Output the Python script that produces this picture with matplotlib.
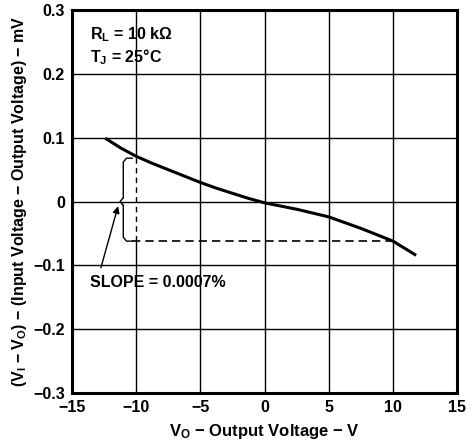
import matplotlib.pyplot as plt
import numpy as np

plt.rcParams['font.family'] = ['Liberation Sans', 'DejaVu Sans']
plt.rcParams['font.weight'] = 'bold'
plt.rcParams['mathtext.fontset'] = 'custom'
plt.rcParams['mathtext.rm'] = 'Liberation Sans:bold'
plt.rcParams['mathtext.bf'] = 'Liberation Sans:bold'
plt.rcParams['mathtext.it'] = 'Liberation Sans:bold'

MINUS = '\u2212'

# curve
vo = [-12.3, -11.2, -10, -8.75, -7.5, -6.25, -5, -3.75, -2.5, -1.25, 0,
      1.25, 2.5, 3.75, 5, 6.25, 7.5, 8.75, 10, 11.7]
dv = [0.098, 0.084, 0.071, 0.060, 0.050, 0.040, 0.030, 0.021, 0.013, 0.005, -0.002,
      -0.007, -0.012, -0.018, -0.024, -0.033, -0.042, -0.052, -0.062, -0.083]

x_ticks = [-15, -10, -5, 0, 5, 10, 15]
x_labels = [MINUS + '15', MINUS + '10', MINUS + '5', '0', '5', '10', '15']
y_ticks = [-0.3, -0.2, -0.1, 0, 0.1, 0.2, 0.3]
y_labels = [MINUS + '0.3', MINUS + '0.2', MINUS + '0.1', '0', '0.1', '0.2', '0.3']

# slope construction
brace_x = -11.0
brace_top = 0.068
brace_bot = -0.062
dash_x = -10
dash_end = 10

fig = plt.figure(figsize=(4.67, 4.44), dpi=100)
ax = fig.add_axes([0.154, 0.115, 0.825, 0.862])
ax.set_xlim(-15, 15)
ax.set_ylim(-0.3, 0.3)

# grid lines
for x in x_ticks[1:-1]:
    if x == dash_x:
        ax.plot([x, x], [-0.3, brace_bot], color='black', lw=1)
        ax.plot([x, x], [0.071, 0.3], color='black', lw=1)
        ax.plot([x, x], [brace_bot, 0.071], color='black', lw=1, ls=(0, (4, 3)))
    else:
        ax.plot([x, x], [-0.3, 0.3], color='black', lw=1)
for y in y_ticks[1:-1]:
    ax.plot([-15, 15], [y, y], color='black', lw=1)

ax.plot(vo, dv, color='black', lw=2.2, solid_joinstyle='round')

# brace and dashed line
ax.plot([-10.3, brace_x + 0.25, brace_x, brace_x], [brace_top, brace_top, brace_top - 0.006, 0.006],
        color='black', lw=1)
ax.plot([brace_x, brace_x - 0.25, brace_x], [0.006, 0.0, -0.006], color='black', lw=1)
ax.plot([brace_x, brace_x, brace_x + 0.25, -10.3], [-0.006, brace_bot + 0.006, brace_bot, brace_bot],
        color='black', lw=1)
ax.plot([-10.3, dash_end], [brace_bot, brace_bot], color='black', lw=1.2, ls=(0, (5, 3)))

ax.annotate('', xy=(-11.35, -0.003), xytext=(-12.8, -0.108),
            arrowprops=dict(arrowstyle='-|>', color='black', lw=1, mutation_scale=10))
ax.text(-13.6, -0.127, 'SLOPE = 0.0007%', fontsize=11.5, va='center', ha='left', fontweight='bold')
ax.text(-13.6, 0.262, r'R$_\mathbf{L}$ = 10 k$\Omega$', fontsize=11.5, va='center', ha='left',
        fontweight='bold')
ax.text(-13.6, 0.226, r'T$_\mathbf{J}$ = 25°C', fontsize=11.5, va='center', ha='left',
        fontweight='bold')

ax.set_xticks(x_ticks)
ax.set_xticklabels(x_labels, fontsize=11.5, fontweight='bold')
ax.set_yticks(y_ticks)
ax.set_yticklabels(y_labels, fontsize=11.5, fontweight='bold')
ax.tick_params(length=0, pad=5)
for s in ax.spines.values():
    s.set_linewidth(2.2)

ax.set_xlabel(r'V$_\mathbf{O}$ ' + MINUS + ' Output Voltage ' + MINUS + ' V',
              fontsize=12, fontweight='bold', labelpad=5)
ax.set_ylabel(r'(V$_\mathbf{I}$ ' + MINUS + r' V$_\mathbf{O}$) ' + MINUS +
              ' (Input Voltage ' + MINUS + ' Output Voltage) ' + MINUS + ' mV',
              fontsize=11.5, fontweight='bold', labelpad=3)

fig.savefig('out.png', dpi=100)
